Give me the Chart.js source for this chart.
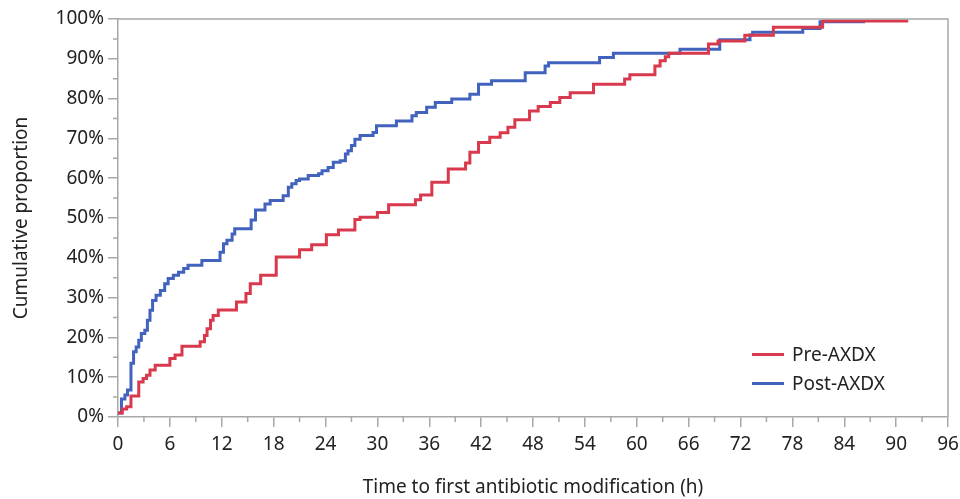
<!DOCTYPE html>
<html>
<head>
<meta charset="utf-8">
<script src="https://cdn.jsdelivr.net/npm/chart.js@4"></script>
<style>
  html, body { margin: 0; padding: 0; background: #fff; }
  #wrap { position: relative; width: 960px; height: 499px; }
  #legend { position: absolute; left: 752px; top: 340px; font-family: 'Noto Sans', sans-serif; font-size: 19px; color: #222; line-height: 29px; }
  #legend .row { display: flex; align-items: center; }
  #legend .swatch { width: 32px; height: 3px; margin-right: 8px; }
</style>
</head>
<body>
<div id="wrap">
  <canvas id="chart" width="960" height="499"></canvas>
  <div id="legend">
    <div class="row"><span class="swatch" style="background:#d8394d"></span>Pre-AXDX</div>
    <div class="row"><span class="swatch" style="background:#4263bd"></span>Post-AXDX</div>
  </div>
</div>
<script>
// Temps (h) et proportion cumulée (%)
const preHours = [0, 0.5, 1.0, 1.5, 2.4, 2.9, 3.3, 3.7, 4.3, 6.0, 6.6, 7.4, 9.5, 10.0, 10.3, 10.7, 11.0, 11.6,
  13.7, 14.8, 15.3, 16.5, 18.3, 21.0, 22.4, 24.1, 25.5, 27.4, 28.0, 30.0, 31.3, 34.4, 35.0, 36.3, 38.2,
  40.2, 40.7, 41.7, 43.0, 44.2, 45.1, 45.9, 47.6, 48.6, 50.0, 51.1, 52.3, 55.0, 58.6, 59.2, 62.1, 62.7,
  63.3, 63.7, 68.3, 69.4, 72.5, 75.8, 81.5, 91.4];
const preValues = [1.0, 2.0, 2.6, 5.3, 8.8, 9.7, 10.5, 11.8, 13.0, 14.7, 15.6, 17.8, 18.9, 20.5, 22.2, 24.3, 25.5, 26.9,
  28.9, 31.0, 33.5, 35.6, 40.2, 42.0, 43.3, 45.8, 47.0, 49.6, 50.2, 51.4, 53.3, 54.6, 55.8, 59.0, 62.3,
  63.8, 66.5, 69.0, 70.3, 71.4, 72.8, 74.7, 76.9, 78.0, 79.0, 80.3, 81.5, 83.6, 84.9, 86.0, 88.2, 89.5,
  90.5, 91.4, 93.7, 94.5, 95.9, 97.9, 99.5, 99.5];

const postHours = [0, 0.4, 0.8, 1.1, 1.5, 1.8, 2.1, 2.4, 2.7, 3.1, 3.4, 3.7, 4.0, 4.4, 4.9, 5.4, 5.8, 6.4, 7.0, 7.6,
  8.1, 9.7, 11.8, 12.2, 12.6, 13.2, 13.5, 15.4, 15.9, 17.0, 17.6, 19.1, 19.7, 20.1, 20.6, 21.0, 22.0, 23.2,
  23.6, 24.3, 24.9, 25.7, 26.3, 26.6, 27.0, 27.4, 28.0, 29.5, 29.9, 32.2, 34.0, 34.5, 35.7, 36.7, 38.6,
  40.7, 41.7, 43.2, 47.1, 49.4, 49.8, 55.7, 57.3, 65.0, 69.6, 73.1, 73.4, 79.2, 81.2, 86.4];
const postValues = [1.0, 4.5, 5.5, 6.8, 13.5, 16.4, 17.6, 19.3, 21.0, 21.8, 24.3, 26.8, 29.3, 30.6, 31.8, 33.5, 34.8, 35.6, 36.4, 37.3,
  38.1, 39.3, 41.4, 43.5, 44.4, 46.0, 47.3, 49.5, 52.0, 53.5, 54.4, 55.6, 57.7, 58.6, 59.4, 59.8, 60.7, 61.1,
  61.9, 62.7, 64.0, 64.4, 66.1, 66.9, 68.2, 69.8, 70.7, 71.5, 73.2, 74.4, 75.7, 76.5, 77.8, 79.0, 79.9,
  81.1, 83.6, 84.5, 86.5, 88.2, 89.0, 90.3, 91.4, 92.4, 94.8, 96.0, 96.7, 97.6, 99.3, 99.3];

const xTicks = [0, 6, 12, 18, 24, 30, 36, 42, 48, 54, 60, 66, 72, 78, 84, 90, 96];
const yTicks = [0, 10, 20, 30, 40, 50, 60, 70, 80, 90, 100];

const RED = '#d8394d';
const BLUE = '#4263bd';
const AXIS = '#a8a8a8';
const FONT = "'Noto Sans', sans-serif";

const toPoints = (xs, ys) => xs.map((x, i) => ({ x, y: ys[i] }));

// cadre + petites graduations intermédiaires
const framePlugin = {
  id: 'frame',
  afterDraw(chart) {
    const { ctx, chartArea: a, scales } = chart;
    ctx.save();
    ctx.strokeStyle = AXIS;
    ctx.lineWidth = 1.5;
    ctx.beginPath();
    ctx.moveTo(a.left, a.top); ctx.lineTo(a.right, a.top); ctx.lineTo(a.right, a.bottom);
    for (let v = 5; v < 100; v += 10) {
      const y = scales.y.getPixelForValue(v);
      ctx.moveTo(a.left - 5, y); ctx.lineTo(a.left, y);
    }
    for (let h = 3; h < 96; h += 6) {
      const x = scales.x.getPixelForValue(h);
      ctx.moveTo(x, a.bottom); ctx.lineTo(x, a.bottom + 5);
    }
    ctx.stroke();
    ctx.restore();
  }
};

new Chart(document.getElementById('chart'), {
  type: 'line',
  data: {
    datasets: [
      { label: 'Pre-AXDX', data: toPoints(preHours, preValues), borderColor: RED, borderWidth: 3, stepped: 'before', pointRadius: 0, fill: false },
      { label: 'Post-AXDX', data: toPoints(postHours, postValues), borderColor: BLUE, borderWidth: 3, stepped: 'before', pointRadius: 0, fill: false }
    ]
  },
  options: {
    responsive: false,
    animation: false,
    layout: { padding: { left: 10, right: 0, top: 19, bottom: 0 } },
    plugins: { legend: { display: false }, tooltip: { enabled: false } },
    scales: {
      x: {
        type: 'linear', min: 0, max: 96,
        afterBuildTicks: s => { s.ticks = xTicks.map(v => ({ value: v })); },
        afterFit: s => { s.height = 82; s.paddingRight = 12; s.paddingLeft = 0; },
        border: { color: AXIS, width: 1.5 },
        grid: { drawOnChartArea: false, color: AXIS, tickLength: 10, lineWidth: 1.5 },
        ticks: { color: '#222', font: { family: FONT, size: 19 }, padding: 6, maxRotation: 0 },
        title: { display: true, text: 'Time to first antibiotic modification (h)', color: '#222', font: { family: FONT, size: 19 }, padding: { top: 12, bottom: 0 } }
      },
      y: {
        min: 0, max: 100,
        afterBuildTicks: s => { s.ticks = yTicks.map(v => ({ value: v })); },
        afterFit: s => { s.width = 108; },
        border: { color: AXIS, width: 1.5 },
        grid: { drawOnChartArea: false, color: AXIS, tickLength: 10, lineWidth: 1.5 },
        ticks: { color: '#222', font: { family: FONT, size: 19 }, padding: 4, callback: v => v + '%' },
        title: { display: true, text: 'Cumulative proportion', color: '#222', font: { family: FONT, size: 19 }, padding: 0 }
      }
    }
  },
  plugins: [framePlugin]
});
</script>
</body>
</html>
